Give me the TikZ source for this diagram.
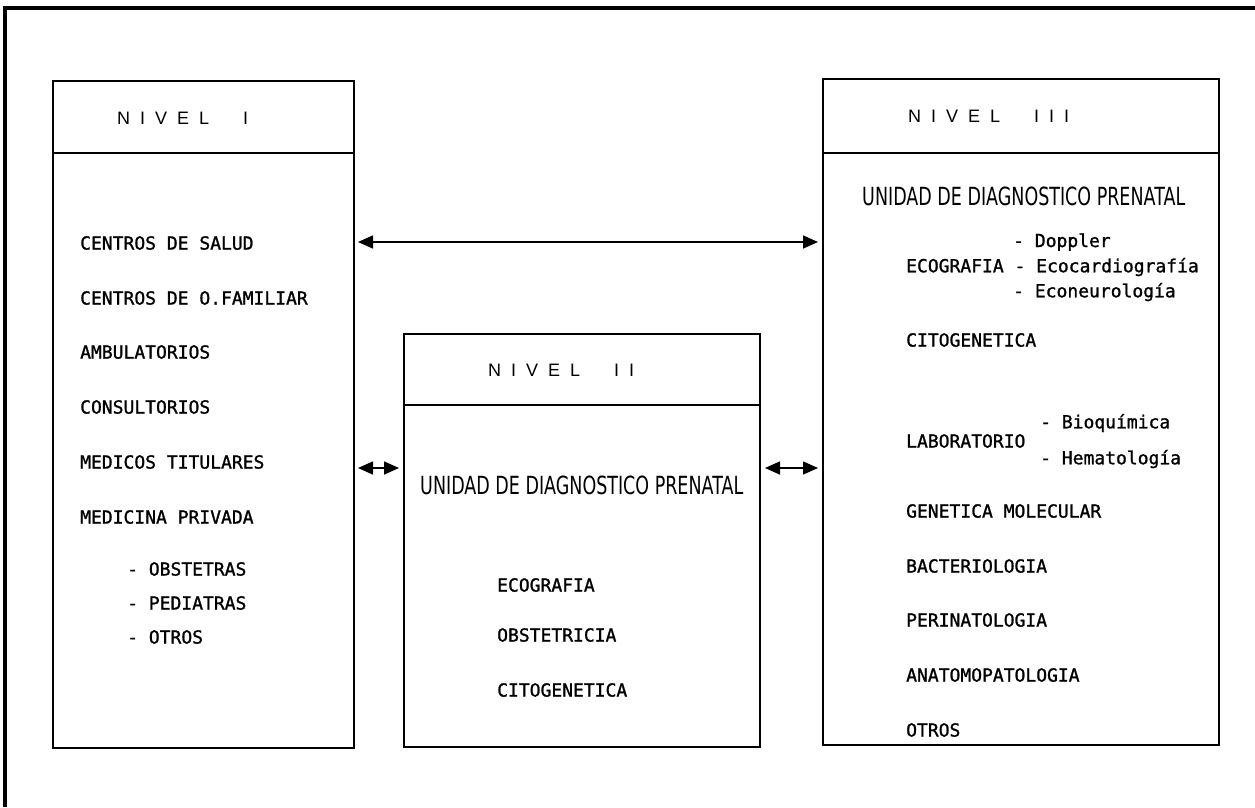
\documentclass[tikz,border=0pt]{standalone}
\usepackage{fontspec}
\usepackage{graphicx}
\usetikzlibrary{arrows.meta}
\newfontfamily\bodyfont[FakeBold=1.2]{DejaVu Sans Mono}
\newfontfamily\headfont{Liberation Sans}
\newfontfamily\unifont{DejaVu Sans}
\newcommand\lsp{\hspace{10pt}}
\newcommand\nivelword{N\lsp I\lsp V\lsp E\lsp L\hspace{34pt}}
\begin{document}
\begin{tikzpicture}[x=1pt,y=-1pt,
  box/.style={draw,line width=2pt,inner sep=0pt,anchor=north west},
  txt/.style={anchor=west,inner sep=0pt,font=\bodyfont\fontsize{18}{20}\selectfont},
  head/.style={anchor=west,inner sep=0pt,font=\headfont\fontsize{18}{21}\selectfont},
  uni/.style={anchor=west,inner sep=0pt,font=\unifont\fontsize{25}{28}\selectfont},
  dbl/.style={line width=1.6pt,{Triangle[length=15pt,width=13pt]}-{Triangle[length=15pt,width=13pt]}}]
\useasboundingbox (0,0) rectangle (1255,807);
\draw[line width=3.2pt] (5,807) -- (5,8) -- (1255,8);
% boxes
\node[box,minimum width=301pt,minimum height=667pt] (b1) at (52,80) {};
\node[box,minimum width=356pt,minimum height=413pt] (b2) at (403,333) {};
\node[box,minimum width=396pt,minimum height=666pt] (b3) at (822,78) {};
\draw[line width=2pt] (b1.west |- 0,153) -- (b1.east |- 0,153);
\draw[line width=2pt] (b2.west |- 0,405) -- (b2.east |- 0,405);
\draw[line width=2pt] (b3.west |- 0,153) -- (b3.east |- 0,153);
% headers
\node[head] (h1) at (117,118) {\nivelword I};
\node[head] (h2) at (488,370) {\nivelword I\lsp I};
\node[head] (h3) at (908,116) {\nivelword I\lsp I\lsp I};
% box I
\node[txt] (a1) at (80,243) {CENTROS DE SALUD};
\node[txt] (a2) at (80,298) {CENTROS DE O.FAMILIAR};
\node[txt] (a3) at (80,352) {AMBULATORIOS};
\node[txt] (a4) at (80,407) {CONSULTORIOS};
\node[txt] (a5) at (80,462) {MEDICOS TITULARES};
\node[txt] (a6) at (80,517) {MEDICINA PRIVADA};
\node[txt] (a7) at (127,569) {- OBSTETRAS};
\node[txt] (a8) at (127,603) {- PEDIATRAS};
\node[txt] (a9) at (127,637) {- OTROS};
% box II
\node[uni] (u2) at (420,485) {\scalebox{0.7}[1]{UNIDAD DE DIAGNOSTICO PRENATAL}};
\node[txt] (c1) at (497,585) {ECOGRAFIA};
\node[txt] (c2) at (497,635) {OBSTETRICIA};
\node[txt] (c3) at (497,690) {CITOGENETICA};
% box III
\node[uni] (u3) at (862,196) {\scalebox{0.7}[1]{UNIDAD DE DIAGNOSTICO PRENATAL}};
\node[txt] (d1) at (1013,242) {- Doppler};
\node[txt] (d2) at (906,267) {ECOGRAFIA - Ecocardiografía};
\node[txt] (d3) at (1013,292) {- Econeurología};
\node[txt] (d4) at (906,340) {CITOGENETICA};
\node[txt] (d5) at (906,441) {LABORATORIO};
\node[txt] (d6) at (1040,423) {- Bioquímica};
\node[txt] (d7) at (1040,459) {- Hematología};
\node[txt] (d8) at (906,511) {GENETICA MOLECULAR};
\node[txt] (d9) at (906,566) {BACTERIOLOGIA};
\node[txt] (d10) at (906,620) {PERINATOLOGIA};
\node[txt] (d11) at (906,675) {ANATOMOPATOLOGIA};
\node[txt] (d12) at (906,730) {OTROS};
% arrows
\draw[dbl] ([xshift=3pt]b1.east |- 0,242) -- ([xshift=-4pt]b3.west |- 0,242);
\draw[dbl] ([xshift=3pt]b1.east |- 0,468) -- ([xshift=-4pt]b2.west |- 0,468);
\draw[dbl] ([xshift=4pt]b2.east |- 0,468) -- ([xshift=-4pt]b3.west |- 0,468);
\end{tikzpicture}
\end{document}
